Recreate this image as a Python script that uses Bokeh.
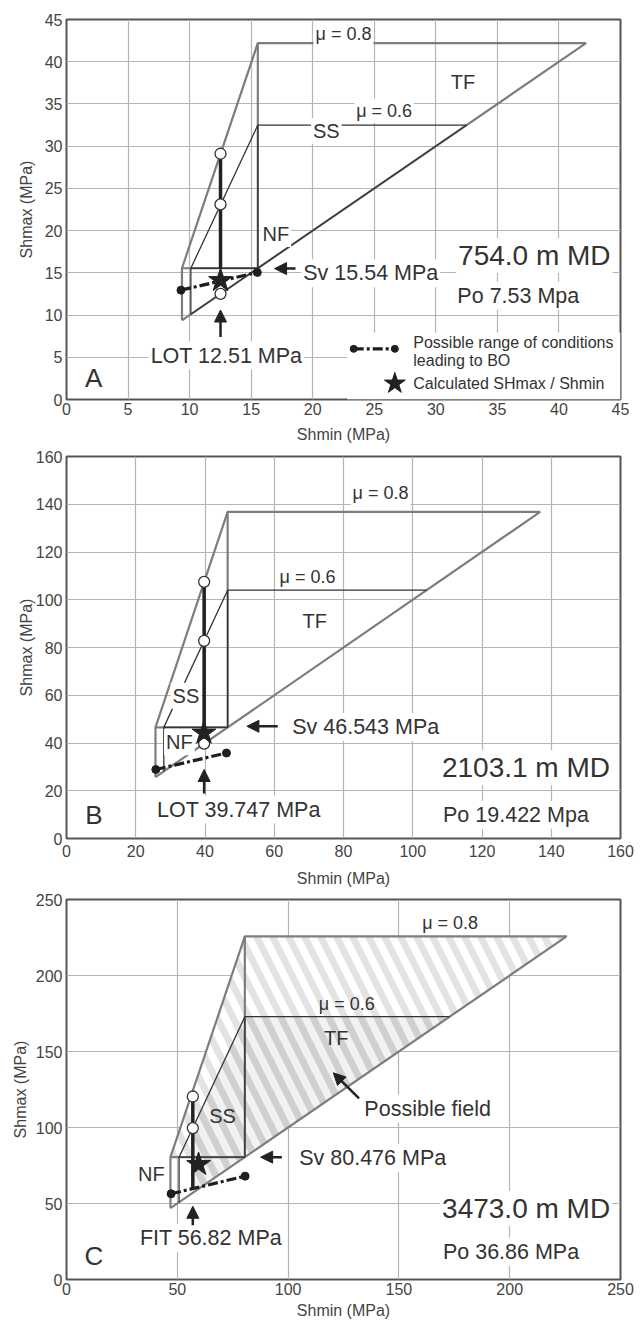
from bokeh.plotting import figure
from bokeh.models import ColumnDataSource, Arrow, NormalHead, FixedTicker, Range1d
from bokeh.layouts import column
from bokeh.embed import file_html
from bokeh.resources import INLINE
from bokeh.core.properties import value, field

FONT = "Liberation Sans"
TXT = "#333333"

# ---------------- Panel A (754.0 m MD) ----------------
A_MAX = 45
A_TICKS = [0, 5, 10, 15, 20, 25, 30, 35, 40, 45]
A_SV = 15.54
A_S08_MIN, A_S08_MAX = 9.38, 42.2
A_S06_MIN, A_S06_MAX = 10.1, 32.5
A_LOT = 12.51
A_CIRCLE_Y = [29.1, 23.1, 12.51]
A_THICK_Y = [29.1, 15.54]
A_STAR_X, A_STAR_Y = [12.51], [14.1]
A_BO_X, A_BO_Y = [9.3, 15.5], [12.95, 15.05]
A_TEXT = ["μ = 0.8", "μ = 0.6", "TF", "SS", "NF", "754.0 m MD", "Po 7.53 Mpa", "LOT 12.51 MPa", "A"]
A_TEXT_X = [22.5, 25.8, 32.2, 21.1, 17.0, 38.0, 36.7, 13.0, 2.2]
A_TEXT_Y = [43.3, 34.2, 37.6, 31.8, 19.6, 17.05, 12.3, 5.2, 2.6]
A_SV_TEXT, A_SV_TX, A_SV_TY = "Sv 15.54 MPa", 19.07, 14.96
A_ARROW_X0 = [18.6, 12.51]
A_ARROW_Y0 = [15.5, 7.4]
A_ARROW_X1 = [16.9, 12.51]
A_ARROW_Y1 = [15.5, 10.6]

# ---------------- Panel B (2103.1 m MD) ----------------
B_MAX = 160
B_TICKS = [0, 20, 40, 60, 80, 100, 120, 140, 160]
B_SV = 46.54
B_S08_MIN, B_S08_MAX = 25.7, 136.8
B_S06_MIN, B_S06_MAX = 28.1, 104.0
B_LOT = 39.75
B_CIRCLE_Y = [107.5, 82.8, 39.75]
B_THICK_Y = [107.5, 46.5]
B_STAR_X, B_STAR_Y = [39.7], [44.2]
B_BO_X, B_BO_Y = [25.8, 46.2], [28.9, 35.8]
B_TEXT = ["μ = 0.8", "μ = 0.6", "TF", "SS", "NF", "2103.1 m MD", "Po 19.422 Mpa", "LOT 39.747 MPa", "B"]
B_TEXT_X = [90.7, 69.6, 71.7, 34.5, 32.6, 132.7, 129.8, 49.8, 7.9]
B_TEXT_Y = [144.7, 109.5, 90.9, 59.8, 40.3, 29.6, 10.0, 12.1, 10.0]
B_SV_TEXT, B_SV_TX, B_SV_TY = "Sv 46.543 MPa", 64.6, 46.7
B_ARROW_X0 = [61.0, 39.75]
B_ARROW_Y0 = [47.0, 18.8]
B_ARROW_X1 = [52.1, 39.75]
B_ARROW_Y1 = [47.0, 28.9]

# ---------------- Panel C (3473.0 m MD) ----------------
C_MAX = 250
C_TICKS = [0, 50, 100, 150, 200, 250]
C_SV = 80.48
C_S08_MIN, C_S08_MAX = 46.9, 225.7
C_S06_MIN, C_S06_MAX = 50.8, 172.9
C_LOT = 57.0
C_CIRCLE_Y = [120.4, 99.6]
C_THICK_Y = [120.4, 59.2]
C_STAR_X, C_STAR_Y = [59.6], [75.7]
C_BO_X, C_BO_Y = [47.2, 80.6], [56.4, 68.0]
C_FIELD_LIGHT_X = [46.9, 80.48, 225.7, 80.48]
C_FIELD_LIGHT_Y = [80.48, 225.7, 225.7, 80.48]
C_FIELD_DARK_X = [57.0, 57.0, 80.48, 172.9, 61.3]
C_FIELD_DARK_Y = [59.7, 99.4, 172.9, 172.9, 61.3]
C_TEXT = ["μ = 0.8", "μ = 0.6", "TF", "SS", "NF", "Possible field", "3473.0 m MD", "Po 36.86 MPa", "FIT 56.82 MPa", "C"]
C_TEXT_X = [173.1, 126.5, 121.7, 70.4, 38.3, 163.0, 207.4, 200.6, 65.2, 12.4]
C_TEXT_Y = [234.6, 181.0, 159.0, 107.5, 69.1, 112.5, 46.7, 18.2, 27.4, 15.4]
C_SV_TEXT, C_SV_TX, C_SV_TY = "Sv 80.476 MPa", 104.1, 80.0
C_ARROW_X0 = [97.2, 57.0, 132.0]
C_ARROW_Y0 = [80.5, 35.7, 119.1]
C_ARROW_X1 = [87.6, 57.0, 120.4]
C_ARROW_Y1 = [80.5, 48.2, 136.0]

# text sizes (style) by label role
ROLE_SIZES = {"μ": "18px", "region": "20px", "md": "28px", "po": "21.5px", "lot": "21.5px", "letter": "26px", "pf": "21px"}


def role_of(t):
    if t.startswith("μ"):
        return "μ"
    if t in ("TF", "SS", "NF"):
        return "region"
    if "m MD" in t:
        return "md"
    if t.startswith("Po"):
        return "po"
    if t.startswith("LOT") or t.startswith("FIT"):
        return "lot"
    if t == "Possible field":
        return "pf"
    return "letter"


def make_panel(mx, ticks, sv, s08min, s08max, s06min, s06max, lot, circ_y, thick_y,
               star_x, star_y, bo_x, bo_y, texts, tx, ty, svt, svx, svy,
               ax0, ay0, ax1, ay1, frame_h, top, bottom, ylab_off, xlab_off, xtick_off,
               diag06_dark, nobg=(), hatch=None):
    p = figure(frame_width=554, frame_height=frame_h, x_range=Range1d(0, mx), y_range=Range1d(0, mx),
               output_backend="svg", toolbar_location=None, tools="",
               min_border_left=66, min_border_right=14, min_border_top=top, min_border_bottom=bottom)
    p.background_fill_color = "white"
    p.border_fill_color = "white"
    p.outline_line_color = "#555555"
    p.outline_line_width = 2
    for ax, lab, off, toff in ((p.xaxis[0], "Shmin (MPa)", xlab_off, xtick_off),
                               (p.yaxis[0], "Shmax (MPa)", ylab_off, 4)):
        ax.ticker = FixedTicker(ticks=ticks)
        ax.axis_label = lab
        ax.axis_label_text_font = FONT
        ax.axis_label_text_font_size = "16px"
        ax.axis_label_text_font_style = "normal"
        ax.axis_label_text_color = "#444444"
        ax.axis_label_standoff = off
        ax.major_label_text_font = FONT
        ax.major_label_text_font_size = "16px"
        ax.major_label_text_color = "#444444"
        ax.major_label_standoff = toff
        ax.axis_line_color = None
        ax.major_tick_line_color = None
        ax.minor_tick_line_color = None
        ax.major_tick_out = 0
        ax.major_tick_in = 0
    for g in (p.xgrid[0], p.ygrid[0]):
        g.ticker = FixedTicker(ticks=ticks)
        g.grid_line_color = "#b5b5b5"
        g.grid_line_width = 1.2

    if hatch is not None:
        lx, ly, dx, dy = hatch
        p.patch(lx, ly, fill_color="white", line_color=None,
                hatch_pattern="left_diagonal_line", hatch_color="#e3e3e3", hatch_scale=32, hatch_weight=7)
        p.patch(dx, dy, fill_color="#f2f2f2", line_color=None,
                hatch_pattern="left_diagonal_line", hatch_color="#d0d0d0", hatch_scale=32, hatch_weight=7)

    # mu = 0.8 polygon (gray)
    xs08 = [[s08min, s08min, sv, s08max, s08min], [s08min, sv, sv]]
    ys08 = [[s08min, sv, s08max, s08max, s08min], [sv, sv, s08max]]
    p.multi_line(xs08, ys08, line_color="#7d7d7d", line_width=2.2)
    # mu = 0.6 polygon (dark)
    xs06 = [[s06min, s06min, sv, s06max], [s06min, sv, sv]]
    ys06 = [[s06min, sv, s06max, s06max], [sv, sv, s06max]]
    if diag06_dark:
        xs06.append([s06max, s06min])
        ys06.append([s06max, s06min])
    p.multi_line(xs06, ys06, line_color="#333333", line_width=1.3)

    # breakout range (dash-dot)
    p.line(bo_x, bo_y, line_color="#1e1e1e", line_width=3.2, line_dash="10 3 3 3")
    p.scatter(bo_x, bo_y, marker="circle", size=8, fill_color="#1e1e1e", line_color="#1e1e1e")

    # LOT vertical
    p.line([lot, lot], thick_y, line_color="#222222", line_width=3.5)

    # arrows
    asrc = ColumnDataSource(dict(x0=ax0, y0=ay0, x1=ax1, y1=ay1))
    p.add_layout(Arrow(end=NormalHead(size=12, fill_color="#222222", line_color="#222222", line_width=1),
                       x_start="x0", y_start="y0", x_end="x1", y_end="y1", source=asrc,
                       line_color="#222222", line_width=2.5))

    # texts
    bg_i = [i for i, t in enumerate(texts) if t not in nobg]
    nb_i = [i for i, t in enumerate(texts) if t in nobg]
    for idx, bg in ((bg_i, "white"), (nb_i, None)):
        if not idx:
            continue
        src = ColumnDataSource(dict(x=[tx[i] for i in idx], y=[ty[i] for i in idx],
                                    text=[texts[i] for i in idx],
                                    size=[ROLE_SIZES[role_of(texts[i])] for i in idx]))
        kw = dict(background_fill_color=bg, padding=2) if bg else {}
        p.text(x="x", y="y", text="text", source=src, text_font=value(FONT), text_font_size=field("size"),
               text_align="center", text_baseline="middle", text_color=TXT, **kw)
    p.text(x=[svx], y=[svy], text=[svt], text_font=value(FONT), text_font_size="21.5px",
           text_align="left", text_baseline="middle", text_color=TXT, background_fill_color="white", padding=2)

    # markers on top
    p.scatter([lot] * len(circ_y), circ_y, marker="circle", size=11, fill_color="white",
              line_color="#333333", line_width=1.3)
    p.scatter(star_x, star_y, marker="star", size=25, fill_color="#222222", line_color="#222222")
    return p


pa = make_panel(A_MAX, A_TICKS, A_SV, A_S08_MIN, A_S08_MAX, A_S06_MIN, A_S06_MAX, A_LOT, A_CIRCLE_Y, A_THICK_Y,
                A_STAR_X, A_STAR_Y, A_BO_X, A_BO_Y, A_TEXT, A_TEXT_X, A_TEXT_Y, A_SV_TEXT, A_SV_TX, A_SV_TY,
                A_ARROW_X0, A_ARROW_Y0, A_ARROW_X1, A_ARROW_Y1, 380, 19, 50, 7, 8, 3, True)

# legend of panel A (layout box in data units of panel A)
pa.quad(left=[22.8], right=[45], bottom=[0], top=[7.9], fill_color="white", line_color=None)
pa.line([23.33, 26.67], [6.0, 6.0], line_color="#1e1e1e", line_width=3.2, line_dash="10 3 3 3")
pa.scatter([23.33, 26.67], [6.0, 6.0], marker="circle", size=7, fill_color="#1e1e1e", line_color="#1e1e1e")
pa.scatter([26.67], [1.9], marker="star", size=22, fill_color="#222222", line_color="#222222")
pa.text(x=[28.17, 28.17, 28.17], y=[6.79, 4.62, 1.93],
        text=["Possible range of conditions", "leading to BO", "Calculated SHmax / Shmin"],
        text_font=value(FONT), text_font_size="16px", text_align="left", text_baseline="middle", text_color=TXT)

pb = make_panel(B_MAX, B_TICKS, B_SV, B_S08_MIN, B_S08_MAX, B_S06_MIN, B_S06_MAX, B_LOT, B_CIRCLE_Y, B_THICK_Y,
                B_STAR_X, B_STAR_Y, B_BO_X, B_BO_Y, B_TEXT, B_TEXT_X, B_TEXT_Y, B_SV_TEXT, B_SV_TX, B_SV_TY,
                B_ARROW_X0, B_ARROW_Y0, B_ARROW_X1, B_ARROW_Y1, 382, 7, 49, -2, 10, 6, False)

pc = make_panel(C_MAX, C_TICKS, C_SV, C_S08_MIN, C_S08_MAX, C_S06_MIN, C_S06_MAX, C_LOT, C_CIRCLE_Y, C_THICK_Y,
                C_STAR_X, C_STAR_Y, C_BO_X, C_BO_Y, C_TEXT, C_TEXT_X, C_TEXT_Y, C_SV_TEXT, C_SV_TX, C_SV_TY,
                C_ARROW_X0, C_ARROW_Y0, C_ARROW_X1, C_ARROW_Y1, 380, 10, 42, 4, 4, 3, False,
                nobg=("TF", "SS", "μ = 0.6"),
                hatch=(C_FIELD_LIGHT_X, C_FIELD_LIGHT_Y, C_FIELD_DARK_X, C_FIELD_DARK_Y))

layout = column(pa, pb, pc)
open("out.html", "w").write(file_html(layout, INLINE))
